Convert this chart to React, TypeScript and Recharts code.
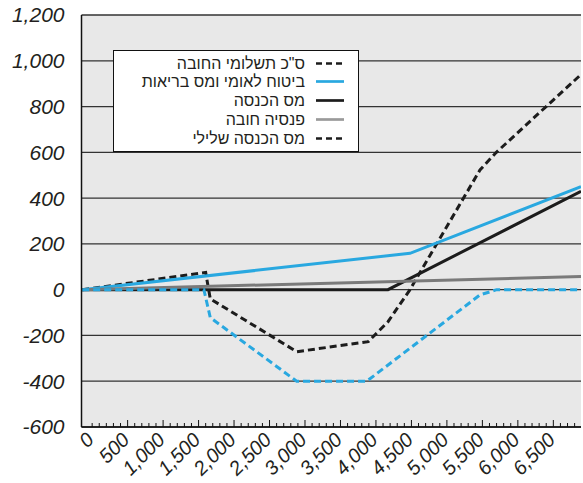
import React from "react";
import { LineChart, Line, XAxis, YAxis, CartesianGrid } from "recharts";

// ---- data (x = wage, y = payment) ----
const totalX = [-140, 1600, 1665, 2883, 3892, 4170, 4480, 5466, 5690, 6890];
const totalY = [0, 75, -40, -271, -227, -140, 0, 523, 598, 940];

const niX = [-140, 4480, 6890];
const niY = [0, 159, 450];

const taxX = [-140, 4170, 6890];
const taxY = [0, 0, 430];

const pensionX = [-140, 6890];
const pensionY = [0, 57];

const nitX = [-140, 1575, 1665, 2883, 3870, 5466, 5702, 6890];
const nitY = [0, 0, -122, -400, -400, -23, 0, 0];

const xLabelTicks = [0, 500, 1000, 1500, 2000, 2500, 3000, 3500, 4000, 4500, 5000, 5500, 6000, 6500];
const xMinorTicks = Array.from({ length: 69 }, (_, i) => i * 100);
const yTicks = [-600, -400, -200, 0, 200, 400, 600, 800, 1000, 1200];

const legendLabels = [
  'ס"כ תשלומי החובה',
  "ביטוח לאומי ומס בריאות",
  "מס הכנסה",
  "פנסיה חובה",
  "מס הכנסה שלילי",
];

const BLUE = "#29a8e0";
const BLACK = "#1c1c1c";
const GRAY = "#7a7a7a";

const toData = (xs: number[], ys: number[]) => xs.map((x, i) => ({ x, y: ys[i] }));

const series = [
  { key: "total", data: toData(totalX, totalY), color: BLACK, dash: "7 4" },
  { key: "ni", data: toData(niX, niY), color: BLUE, dash: undefined },
  { key: "tax", data: toData(taxX, taxY), color: BLACK, dash: undefined },
  { key: "pension", data: toData(pensionX, pensionY), color: GRAY, dash: undefined },
  { key: "nit", data: toData(nitX, nitY), color: BLUE, dash: "7 4" },
];

const legendStyles = [
  { color: BLACK, dash: "6 4" },
  { color: BLUE, dash: undefined },
  { color: BLACK, dash: undefined },
  { color: "#9a9a9a", dash: undefined },
  { color: BLACK, dash: "6 4" },
];

const fmt = (v: number) => v.toLocaleString("en-US");
const FONT = "'Liberation Sans', Arial, sans-serif";

const XTick = (props: any) => {
  const { x, y, payload } = props;
  const v = payload.value as number;
  const major = v % 500 === 0 && v > 0;
  const isLabel = xLabelTicks.includes(v);
  const ax = x + 3;
  const ay = y + 14;
  return (
    <g>
      <line x1={x} x2={x} y1={y} y2={y - (major ? 7 : 4)} stroke="#111" strokeWidth={1} />
      {isLabel && (
        <text
          x={ax}
          y={ay}
          transform={`rotate(-45, ${ax}, ${ay})`}
          textAnchor="end"
          fontFamily={FONT}
          fontStyle="italic"
          fontSize={20}
          fill="#231f20"
        >
          {fmt(v)}
        </text>
      )}
    </g>
  );
};

export default function App() {
  return (
    <div style={{ position: "absolute", left: 0, top: 0, width: 583, height: 483, background: "#fff" }}>
      <LineChart width={583} height={483} margin={{ top: 15, right: 2, bottom: 6, left: 0 }}>
        <CartesianGrid vertical={false} fill="#e8e8e8" stroke="#333" strokeWidth={1.3} />
        <XAxis
          type="number"
          dataKey="x"
          domain={[-150, 6890]}
          ticks={xMinorTicks}
          interval={0}
          tick={<XTick />}
          tickSize={0}
          tickMargin={0}
          tickLine={false}
          height={50}
          axisLine={{ stroke: "#111", strokeWidth: 1.5 }}
          allowDataOverflow
        />
        <YAxis
          type="number"
          domain={[-600, 1200]}
          ticks={yTicks}
          interval={0}
          width={81.5}
          tickSize={0}
          tickMargin={17}
          tickLine={false}
          axisLine={{ stroke: "#111", strokeWidth: 1.5 }}
          tickFormatter={fmt}
          tick={{ fontFamily: FONT, fontStyle: "italic", fontSize: 21, fill: "#231f20" }}
          allowDataOverflow
        />
        {series.map((s) => (
          <Line
            key={s.key}
            data={s.data}
            dataKey="y"
            type="linear"
            stroke={s.color}
            strokeWidth={3}
            strokeDasharray={s.dash}
            dot={false}
            activeDot={false}
            isAnimationActive={false}
          />
        ))}
      </LineChart>
      <div
        style={{
          position: "absolute",
          left: 113,
          top: 50,
          width: 246,
          height: 102,
          boxSizing: "border-box",
          border: "1.5px solid #111",
          background: "#fff",
        }}
      >
        {legendLabels.map((label, i) => (
          <div
            key={label}
            style={{
              position: "absolute",
              left: 0,
              top: 2.5 + i * 18.85,
              width: 244,
              height: 19,
            }}
          >
            <span
              style={{
                position: "absolute",
                right: 53,
                top: 0,
                lineHeight: "19px",
                fontFamily: FONT,
                fontSize: 16,
                color: "#231f20",
                direction: "rtl",
                whiteSpace: "nowrap",
              }}
            >
              {label}
            </span>
            <svg style={{ position: "absolute", left: 202, top: 7 }} width={28} height={5}>
              <line
                x1={0}
                x2={28}
                y1={2.5}
                y2={2.5}
                stroke={legendStyles[i].color}
                strokeWidth={2.7}
                strokeDasharray={legendStyles[i].dash}
              />
            </svg>
          </div>
        ))}
      </div>
    </div>
  );
}
